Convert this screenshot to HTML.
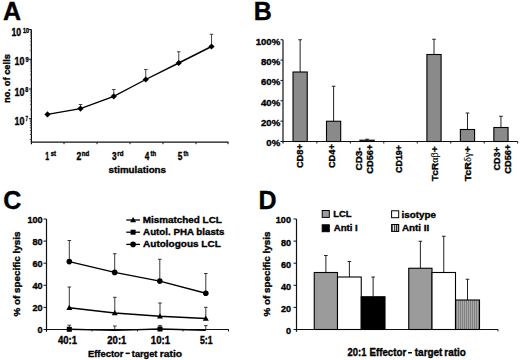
<!DOCTYPE html>
<html><head><meta charset="utf-8"><style>
html,body{margin:0;padding:0;background:#fff;}
svg{display:block;}
text{stroke:#000;stroke-width:0.35px;}
</style></head><body>
<svg width="520" height="360" viewBox="0 0 520 360" font-family="Liberation Sans, sans-serif" font-weight="bold">
<rect width="520" height="360" fill="#fff"/>
<text x="3.1" y="20" font-size="25" text-anchor="start" >A</text>
<text x="253.8" y="19.8" font-size="25" text-anchor="start" >B</text>
<text x="3.2" y="208.6" font-size="25" text-anchor="start" >C</text>
<text x="258.6" y="208.5" font-size="25" text-anchor="start" >D</text>
<line x1="31.4" y1="29.5" x2="31.4" y2="144.2" stroke="#111" stroke-width="1.2"/>
<line x1="30.9" y1="142.2" x2="228.5" y2="142.2" stroke="#111" stroke-width="1.2"/>
<line x1="28.9" y1="29.5" x2="31.4" y2="29.5" stroke="#111" stroke-width="1"/>
<line x1="29.9" y1="50.29" x2="31.4" y2="50.29" stroke="#444" stroke-width="0.7"/>
<line x1="29.9" y1="45.06" x2="31.4" y2="45.06" stroke="#444" stroke-width="0.7"/>
<line x1="29.9" y1="41.34" x2="31.4" y2="41.34" stroke="#444" stroke-width="0.7"/>
<line x1="29.9" y1="38.46" x2="31.4" y2="38.46" stroke="#444" stroke-width="0.7"/>
<line x1="29.9" y1="36.1" x2="31.4" y2="36.1" stroke="#444" stroke-width="0.7"/>
<line x1="29.9" y1="34.11" x2="31.4" y2="34.11" stroke="#444" stroke-width="0.7"/>
<line x1="29.9" y1="32.38" x2="31.4" y2="32.38" stroke="#444" stroke-width="0.7"/>
<line x1="29.9" y1="30.86" x2="31.4" y2="30.86" stroke="#444" stroke-width="0.7"/>
<line x1="28.9" y1="59.25" x2="31.4" y2="59.25" stroke="#111" stroke-width="1"/>
<line x1="29.9" y1="80.04" x2="31.4" y2="80.04" stroke="#444" stroke-width="0.7"/>
<line x1="29.9" y1="74.81" x2="31.4" y2="74.81" stroke="#444" stroke-width="0.7"/>
<line x1="29.9" y1="71.09" x2="31.4" y2="71.09" stroke="#444" stroke-width="0.7"/>
<line x1="29.9" y1="68.21" x2="31.4" y2="68.21" stroke="#444" stroke-width="0.7"/>
<line x1="29.9" y1="65.85" x2="31.4" y2="65.85" stroke="#444" stroke-width="0.7"/>
<line x1="29.9" y1="63.86" x2="31.4" y2="63.86" stroke="#444" stroke-width="0.7"/>
<line x1="29.9" y1="62.13" x2="31.4" y2="62.13" stroke="#444" stroke-width="0.7"/>
<line x1="29.9" y1="60.61" x2="31.4" y2="60.61" stroke="#444" stroke-width="0.7"/>
<line x1="28.9" y1="89" x2="31.4" y2="89" stroke="#111" stroke-width="1"/>
<line x1="29.9" y1="109.79" x2="31.4" y2="109.79" stroke="#444" stroke-width="0.7"/>
<line x1="29.9" y1="104.56" x2="31.4" y2="104.56" stroke="#444" stroke-width="0.7"/>
<line x1="29.9" y1="100.84" x2="31.4" y2="100.84" stroke="#444" stroke-width="0.7"/>
<line x1="29.9" y1="97.96" x2="31.4" y2="97.96" stroke="#444" stroke-width="0.7"/>
<line x1="29.9" y1="95.6" x2="31.4" y2="95.6" stroke="#444" stroke-width="0.7"/>
<line x1="29.9" y1="93.61" x2="31.4" y2="93.61" stroke="#444" stroke-width="0.7"/>
<line x1="29.9" y1="91.88" x2="31.4" y2="91.88" stroke="#444" stroke-width="0.7"/>
<line x1="29.9" y1="90.36" x2="31.4" y2="90.36" stroke="#444" stroke-width="0.7"/>
<line x1="28.9" y1="118.75" x2="31.4" y2="118.75" stroke="#111" stroke-width="1"/>
<line x1="29.9" y1="139.54" x2="31.4" y2="139.54" stroke="#444" stroke-width="0.7"/>
<line x1="29.9" y1="134.31" x2="31.4" y2="134.31" stroke="#444" stroke-width="0.7"/>
<line x1="29.9" y1="130.59" x2="31.4" y2="130.59" stroke="#444" stroke-width="0.7"/>
<line x1="29.9" y1="127.71" x2="31.4" y2="127.71" stroke="#444" stroke-width="0.7"/>
<line x1="29.9" y1="125.35" x2="31.4" y2="125.35" stroke="#444" stroke-width="0.7"/>
<line x1="29.9" y1="123.36" x2="31.4" y2="123.36" stroke="#444" stroke-width="0.7"/>
<line x1="29.9" y1="121.63" x2="31.4" y2="121.63" stroke="#444" stroke-width="0.7"/>
<line x1="29.9" y1="120.11" x2="31.4" y2="120.11" stroke="#444" stroke-width="0.7"/>
<line x1="29.9" y1="139.54" x2="31.4" y2="139.54" stroke="#444" stroke-width="0.7"/>
<line x1="29.9" y1="134.31" x2="31.4" y2="134.31" stroke="#444" stroke-width="0.7"/>
<line x1="29.9" y1="130.59" x2="31.4" y2="130.59" stroke="#444" stroke-width="0.7"/>
<line x1="29.9" y1="127.71" x2="31.4" y2="127.71" stroke="#444" stroke-width="0.7"/>
<line x1="29.9" y1="125.35" x2="31.4" y2="125.35" stroke="#444" stroke-width="0.7"/>
<line x1="29.9" y1="123.36" x2="31.4" y2="123.36" stroke="#444" stroke-width="0.7"/>
<line x1="29.9" y1="121.63" x2="31.4" y2="121.63" stroke="#444" stroke-width="0.7"/>
<line x1="29.9" y1="120.11" x2="31.4" y2="120.11" stroke="#444" stroke-width="0.7"/>
<line x1="64" y1="142.2" x2="64" y2="144.2" stroke="#111" stroke-width="1"/>
<line x1="97" y1="142.2" x2="97" y2="144.2" stroke="#111" stroke-width="1"/>
<line x1="130" y1="142.2" x2="130" y2="144.2" stroke="#111" stroke-width="1"/>
<line x1="163" y1="142.2" x2="163" y2="144.2" stroke="#111" stroke-width="1"/>
<line x1="196" y1="142.2" x2="196" y2="144.2" stroke="#111" stroke-width="1"/>
<line x1="228" y1="142.2" x2="228" y2="144.2" stroke="#111" stroke-width="1"/>
<text x="11.43" y="36" font-size="10.1" textLength="9.66" lengthAdjust="spacingAndGlyphs">10</text>
<text x="22.88" y="33" font-size="7.2" textLength="6.07" lengthAdjust="spacingAndGlyphs">10</text>
<text x="14.52" y="65" font-size="10.1" textLength="9.88" lengthAdjust="spacingAndGlyphs">10</text>
<text x="25.48" y="62" font-size="7.2" textLength="3.16" lengthAdjust="spacingAndGlyphs">9</text>
<text x="14.41" y="96" font-size="10.1" textLength="9.99" lengthAdjust="spacingAndGlyphs">10</text>
<text x="25.30" y="92" font-size="7.2" textLength="2.99" lengthAdjust="spacingAndGlyphs">8</text>
<text x="14.52" y="125" font-size="10.1" textLength="9.88" lengthAdjust="spacingAndGlyphs">10</text>
<text x="25.49" y="121" font-size="7.2" textLength="2.43" lengthAdjust="spacingAndGlyphs">7</text>
<text x="45.13" y="160" font-size="10.1" textLength="3.89" lengthAdjust="spacingAndGlyphs">1</text>
<text x="50.67" y="156.1" font-size="6.6" textLength="5.23" lengthAdjust="spacingAndGlyphs">st</text>
<text x="76.47" y="160" font-size="10.1" textLength="4.80" lengthAdjust="spacingAndGlyphs">2</text>
<text x="81.77" y="156.1" font-size="6.6" textLength="7.45" lengthAdjust="spacingAndGlyphs">nd</text>
<text x="111.98" y="160" font-size="10.1" textLength="4.64" lengthAdjust="spacingAndGlyphs">3</text>
<text x="117.26" y="156.1" font-size="6.6" textLength="6.22" lengthAdjust="spacingAndGlyphs">rd</text>
<text x="144.65" y="160" font-size="10.1" textLength="4.51" lengthAdjust="spacingAndGlyphs">4</text>
<text x="150.60" y="156.1" font-size="6.6" textLength="5.59" lengthAdjust="spacingAndGlyphs">th</text>
<text x="177.72" y="160" font-size="10.1" textLength="4.64" lengthAdjust="spacingAndGlyphs">5</text>
<text x="183.41" y="156.1" font-size="6.6" textLength="4.94" lengthAdjust="spacingAndGlyphs">th</text>
<text x="108.53" y="173.2" font-size="9.7" textLength="57.49" lengthAdjust="spacingAndGlyphs">stimulations</text>
<text transform="translate(9.6,102.94) rotate(-90)" x="0" y="0" font-size="9.2" textLength="48.95" lengthAdjust="spacingAndGlyphs">no. of cells</text>
<line x1="80.5" y1="108.6" x2="80.5" y2="104.5" stroke="#333" stroke-width="0.9"/>
<line x1="78.7" y1="104.5" x2="82.3" y2="104.5" stroke="#333" stroke-width="0.9"/>
<line x1="113.75" y1="96.3" x2="113.75" y2="89.5" stroke="#333" stroke-width="0.9"/>
<line x1="111.95" y1="89.5" x2="115.55" y2="89.5" stroke="#333" stroke-width="0.9"/>
<line x1="145.75" y1="79.5" x2="145.75" y2="69.5" stroke="#333" stroke-width="0.9"/>
<line x1="143.95" y1="69.5" x2="147.55" y2="69.5" stroke="#333" stroke-width="0.9"/>
<line x1="178.75" y1="63" x2="178.75" y2="51.75" stroke="#333" stroke-width="0.9"/>
<line x1="176.95" y1="51.75" x2="180.55" y2="51.75" stroke="#333" stroke-width="0.9"/>
<line x1="211.5" y1="46.5" x2="211.5" y2="34.3" stroke="#333" stroke-width="0.9"/>
<line x1="209.7" y1="34.3" x2="213.3" y2="34.3" stroke="#333" stroke-width="0.9"/>
<polyline fill="none" stroke="#000" stroke-width="1.4" points="47.5,114.4 80.5,108.6 113.75,96.3 145.75,79.5 178.75,63 211.5,46.5"/>
<polygon points="47.5,111.30000000000001 50.6,114.4 47.5,117.5 44.4,114.4" fill="#000"/>
<polygon points="80.5,105.5 83.6,108.6 80.5,111.69999999999999 77.4,108.6" fill="#000"/>
<polygon points="113.75,93.2 116.85,96.3 113.75,99.39999999999999 110.65,96.3" fill="#000"/>
<polygon points="145.75,76.4 148.85,79.5 145.75,82.6 142.65,79.5" fill="#000"/>
<polygon points="178.75,59.9 181.85,63 178.75,66.1 175.65,63" fill="#000"/>
<polygon points="211.5,43.4 214.6,46.5 211.5,49.6 208.4,46.5" fill="#000"/>
<line x1="283" y1="39.75" x2="283" y2="143.5" stroke="#111" stroke-width="1.2"/>
<line x1="282.5" y1="141.5" x2="517.7" y2="141.5" stroke="#111" stroke-width="1.2"/>
<line x1="280.5" y1="39.75" x2="283" y2="39.75" stroke="#111" stroke-width="1"/>
<text x="280.2" y="44.65" font-size="9.6" text-anchor="end" >100%</text>
<line x1="280.5" y1="60.1" x2="283" y2="60.1" stroke="#111" stroke-width="1"/>
<text x="280.2" y="65.0" font-size="9.6" text-anchor="end" >80%</text>
<line x1="280.5" y1="80.45" x2="283" y2="80.45" stroke="#111" stroke-width="1"/>
<text x="280.2" y="85.35000000000001" font-size="9.6" text-anchor="end" >60%</text>
<line x1="280.5" y1="100.8" x2="283" y2="100.8" stroke="#111" stroke-width="1"/>
<text x="280.2" y="105.70000000000002" font-size="9.6" text-anchor="end" >40%</text>
<line x1="280.5" y1="121.15" x2="283" y2="121.15" stroke="#111" stroke-width="1"/>
<text x="280.2" y="126.05000000000001" font-size="9.6" text-anchor="end" >20%</text>
<line x1="280.5" y1="141.5" x2="283" y2="141.5" stroke="#111" stroke-width="1"/>
<text x="280.2" y="146.4" font-size="9.6" text-anchor="end" >0%</text>
<line x1="316.87" y1="141.5" x2="316.87" y2="143.5" stroke="#111" stroke-width="1"/>
<line x1="350.33" y1="141.5" x2="350.33" y2="143.5" stroke="#111" stroke-width="1"/>
<line x1="383.8" y1="141.5" x2="383.8" y2="143.5" stroke="#111" stroke-width="1"/>
<line x1="417.27" y1="141.5" x2="417.27" y2="143.5" stroke="#111" stroke-width="1"/>
<line x1="450.75" y1="141.5" x2="450.75" y2="143.5" stroke="#111" stroke-width="1"/>
<line x1="484.21" y1="141.5" x2="484.21" y2="143.5" stroke="#111" stroke-width="1"/>
<line x1="517.68" y1="141.5" x2="517.68" y2="143.5" stroke="#111" stroke-width="1"/>
<line x1="300.13" y1="72" x2="300.13" y2="39.75" stroke="#222" stroke-width="1"/>
<line x1="298.33" y1="39.75" x2="301.93" y2="39.75" stroke="#222" stroke-width="1"/>
<rect x="293.03" y="72" width="14.2" height="69.5" fill="#8a8a8a" stroke="#000" stroke-width="1.1"/>
<line x1="333.6" y1="121.25" x2="333.6" y2="86.25" stroke="#222" stroke-width="1"/>
<line x1="331.8" y1="86.25" x2="335.4" y2="86.25" stroke="#222" stroke-width="1"/>
<rect x="326.5" y="121.25" width="14.2" height="20.25" fill="#8a8a8a" stroke="#000" stroke-width="1.1"/>
<line x1="367.07" y1="140.2" x2="367.07" y2="139.2" stroke="#222" stroke-width="1"/>
<line x1="365.27" y1="139.2" x2="368.87" y2="139.2" stroke="#222" stroke-width="1"/>
<rect x="359.96999999999997" y="140.2" width="14.2" height="1.3000000000000114" fill="#8a8a8a" stroke="#000" stroke-width="1.1"/>
<line x1="434.01" y1="54.5" x2="434.01" y2="39.25" stroke="#222" stroke-width="1"/>
<line x1="432.21" y1="39.25" x2="435.81" y2="39.25" stroke="#222" stroke-width="1"/>
<rect x="426.90999999999997" y="54.5" width="14.2" height="87.0" fill="#8a8a8a" stroke="#000" stroke-width="1.1"/>
<line x1="467.48" y1="129.5" x2="467.48" y2="113" stroke="#222" stroke-width="1"/>
<line x1="465.68" y1="113" x2="469.28" y2="113" stroke="#222" stroke-width="1"/>
<rect x="460.38" y="129.5" width="14.2" height="12.0" fill="#8a8a8a" stroke="#000" stroke-width="1.1"/>
<line x1="500.95" y1="127.5" x2="500.95" y2="116.25" stroke="#222" stroke-width="1"/>
<line x1="499.15" y1="116.25" x2="502.75" y2="116.25" stroke="#222" stroke-width="1"/>
<rect x="493.84999999999997" y="127.5" width="14.2" height="14.0" fill="#8a8a8a" stroke="#000" stroke-width="1.1"/>
<text transform="translate(302.8,144.1) rotate(-90)" x="0" y="0" font-size="9.4" text-anchor="end" textLength="24" lengthAdjust="spacingAndGlyphs">CD8+</text>
<text transform="translate(335.0,144.1) rotate(-90)" x="0" y="0" font-size="9.4" text-anchor="end" textLength="24" lengthAdjust="spacingAndGlyphs">CD4+</text>
<text transform="translate(361.8,158.9) rotate(-90)" x="0" y="0" font-size="9.4" text-anchor="middle" textLength="23.1" lengthAdjust="spacingAndGlyphs">CD3-</text>
<text transform="translate(373.4,159.2) rotate(-90)" x="0" y="0" font-size="9.4" text-anchor="middle" textLength="29.3" lengthAdjust="spacingAndGlyphs">CD56+</text>
<text transform="translate(401.6,144.9) rotate(-90)" x="0" y="0" font-size="9.4" text-anchor="end" textLength="28.2" lengthAdjust="spacingAndGlyphs">CD19+</text>
<text transform="translate(437.9,146.3) rotate(-90)" x="0" y="0" font-size="9.4" text-anchor="end" textLength="35" lengthAdjust="spacingAndGlyphs">TcR<tspan font-family="Liberation Serif" font-weight="normal" stroke-width="0.15">αβ</tspan>+</text>
<text transform="translate(471.3,146.3) rotate(-90)" x="0" y="0" font-size="9.4" text-anchor="end" textLength="35" lengthAdjust="spacingAndGlyphs">TcR<tspan font-family="Liberation Serif" font-weight="normal" stroke-width="0.15">δγ</tspan>+</text>
<text transform="translate(499.8,158.75) rotate(-90)" x="0" y="0" font-size="9.4" text-anchor="middle" textLength="23.5" lengthAdjust="spacingAndGlyphs">CD3+</text>
<text transform="translate(511.1,159.2) rotate(-90)" x="0" y="0" font-size="9.4" text-anchor="middle" textLength="29.3" lengthAdjust="spacingAndGlyphs">CD56+</text>
<line x1="46.5" y1="219" x2="46.5" y2="331.8" stroke="#111" stroke-width="1.2"/>
<line x1="46" y1="329.5" x2="228.8" y2="329.5" stroke="#111" stroke-width="1.2"/>
<line x1="43.5" y1="219" x2="46.5" y2="219" stroke="#111" stroke-width="1"/>
<text x="42.6" y="222.9" font-size="9.1" text-anchor="end" >100</text>
<line x1="43.5" y1="241.1" x2="46.5" y2="241.1" stroke="#111" stroke-width="1"/>
<text x="42.6" y="245.0" font-size="9.1" text-anchor="end" >80</text>
<line x1="43.5" y1="263.2" x2="46.5" y2="263.2" stroke="#111" stroke-width="1"/>
<text x="42.6" y="267.09999999999997" font-size="9.1" text-anchor="end" >60</text>
<line x1="43.5" y1="285.3" x2="46.5" y2="285.3" stroke="#111" stroke-width="1"/>
<text x="42.6" y="289.2" font-size="9.1" text-anchor="end" >40</text>
<line x1="43.5" y1="307.4" x2="46.5" y2="307.4" stroke="#111" stroke-width="1"/>
<text x="42.6" y="311.29999999999995" font-size="9.1" text-anchor="end" >20</text>
<line x1="43.5" y1="329.5" x2="46.5" y2="329.5" stroke="#111" stroke-width="1"/>
<text x="42.6" y="333.4" font-size="9.1" text-anchor="end" >0</text>
<text transform="translate(19.75,316.57) rotate(-90)" x="0" y="0" font-size="8.7" textLength="85.10" lengthAdjust="spacingAndGlyphs">% of specific lysis</text>
<line x1="92" y1="329.5" x2="92" y2="331.4" stroke="#111" stroke-width="1"/>
<line x1="137.5" y1="329.5" x2="137.5" y2="331.4" stroke="#111" stroke-width="1"/>
<line x1="183" y1="329.5" x2="183" y2="331.4" stroke="#111" stroke-width="1"/>
<line x1="228.5" y1="329.5" x2="228.5" y2="331.4" stroke="#111" stroke-width="1"/>
<line x1="69.3" y1="261.6" x2="69.3" y2="240.5" stroke="#222" stroke-width="0.9"/>
<line x1="67.5" y1="240.5" x2="71.1" y2="240.5" stroke="#222" stroke-width="0.9"/>
<line x1="114.7" y1="272.4" x2="114.7" y2="253.75" stroke="#222" stroke-width="0.9"/>
<line x1="112.9" y1="253.75" x2="116.5" y2="253.75" stroke="#222" stroke-width="0.9"/>
<line x1="159.8" y1="281.1" x2="159.8" y2="259.25" stroke="#222" stroke-width="0.9"/>
<line x1="158" y1="259.25" x2="161.6" y2="259.25" stroke="#222" stroke-width="0.9"/>
<line x1="205.8" y1="293.3" x2="205.8" y2="273.5" stroke="#222" stroke-width="0.9"/>
<line x1="204" y1="273.5" x2="207.6" y2="273.5" stroke="#222" stroke-width="0.9"/>
<line x1="69.3" y1="307.7" x2="69.3" y2="287" stroke="#222" stroke-width="0.9"/>
<line x1="67.5" y1="287" x2="71.1" y2="287" stroke="#222" stroke-width="0.9"/>
<line x1="114.8" y1="313" x2="114.8" y2="297.3" stroke="#222" stroke-width="0.9"/>
<line x1="113" y1="297.3" x2="116.6" y2="297.3" stroke="#222" stroke-width="0.9"/>
<line x1="160" y1="316.3" x2="160" y2="303" stroke="#222" stroke-width="0.9"/>
<line x1="158.2" y1="303" x2="161.8" y2="303" stroke="#222" stroke-width="0.9"/>
<line x1="205.8" y1="318.5" x2="205.8" y2="307.3" stroke="#222" stroke-width="0.9"/>
<line x1="204" y1="307.3" x2="207.6" y2="307.3" stroke="#222" stroke-width="0.9"/>
<line x1="69.3" y1="329.3" x2="69.3" y2="325.2" stroke="#222" stroke-width="0.9"/>
<line x1="67.5" y1="325.2" x2="71.1" y2="325.2" stroke="#222" stroke-width="0.9"/>
<line x1="114.8" y1="330.4" x2="114.8" y2="326" stroke="#222" stroke-width="0.9"/>
<line x1="113" y1="326" x2="116.6" y2="326" stroke="#222" stroke-width="0.9"/>
<line x1="160" y1="329" x2="160" y2="325.4" stroke="#222" stroke-width="0.9"/>
<line x1="158.2" y1="325.4" x2="161.8" y2="325.4" stroke="#222" stroke-width="0.9"/>
<line x1="205.8" y1="330.2" x2="205.8" y2="325.6" stroke="#222" stroke-width="0.9"/>
<line x1="204" y1="325.6" x2="207.6" y2="325.6" stroke="#222" stroke-width="0.9"/>
<polyline fill="none" stroke="#000" stroke-width="1.4" points="69.3,261.6 114.7,272.4 159.8,281.1 205.8,293.3"/>
<polyline fill="none" stroke="#000" stroke-width="1.4" points="69.3,307.7 114.8,313 160,316.3 205.8,318.5"/>
<polyline fill="none" stroke="#000" stroke-width="1.4" points="69.3,329.3 114.8,330.4 160,329.0 205.8,330.2"/>
<circle cx="69.3" cy="261.6" r="2.8" fill="#000"/>
<circle cx="114.7" cy="272.4" r="2.8" fill="#000"/>
<circle cx="159.8" cy="281.1" r="2.8" fill="#000"/>
<circle cx="205.8" cy="293.3" r="2.8" fill="#000"/>
<polygon points="69.3,304.7 72.3,309.95 66.3,309.95" fill="#000"/>
<polygon points="114.8,310.0 117.8,315.25 111.8,315.25" fill="#000"/>
<polygon points="160,313.3 163.0,318.55 157.0,318.55" fill="#000"/>
<polygon points="205.8,315.5 208.8,320.75 202.8,320.75" fill="#000"/>
<rect x="66.8" y="326.8" width="5.0" height="5.0" fill="#000"/>
<rect x="157.5" y="326.5" width="5.0" height="5.0" fill="#000"/>
<line x1="126.3" y1="220" x2="140" y2="220" stroke="#000" stroke-width="1.3"/>
<polygon points="133.1,217.0 136.1,222.25 130.1,222.25" fill="#000"/>
<text x="142.71" y="222.9" font-size="9.5" textLength="79.12" lengthAdjust="spacingAndGlyphs">Mismatched LCL</text>
<line x1="126.3" y1="232.2" x2="140" y2="232.2" stroke="#000" stroke-width="1.3"/>
<rect x="130.6" y="229.7" width="5.0" height="5.0" fill="#000"/>
<text x="143.13" y="235.1" font-size="9.5" textLength="81.40" lengthAdjust="spacingAndGlyphs">Autol. PHA blasts</text>
<line x1="126.3" y1="244.4" x2="140" y2="244.4" stroke="#000" stroke-width="1.3"/>
<circle cx="133.1" cy="244.4" r="2.8" fill="#000"/>
<text x="143.13" y="247.3" font-size="9.5" textLength="77.61" lengthAdjust="spacingAndGlyphs">Autologous LCL</text>
<text x="58.03" y="344" font-size="10.1" textLength="19.06" lengthAdjust="spacingAndGlyphs">40:1</text>
<text x="107.34" y="344" font-size="10.1" textLength="19.00" lengthAdjust="spacingAndGlyphs">20:1</text>
<text x="150.82" y="344" font-size="10.1" textLength="19.28" lengthAdjust="spacingAndGlyphs">10:1</text>
<text x="199.90" y="343.5" font-size="10.1" textLength="12.67" lengthAdjust="spacingAndGlyphs">5:1</text>
<text x="87.95" y="356.6" font-size="9.7" textLength="35.52" lengthAdjust="spacingAndGlyphs">Effector</text>
<rect x="125.6" y="352.6" width="4.2" height="1.5" fill="#000"/>
<text x="131.86" y="356.6" font-size="9.7" textLength="25.57" lengthAdjust="spacingAndGlyphs">target</text>
<text x="159.74" y="356.6" font-size="9.7" textLength="22.38" lengthAdjust="spacingAndGlyphs">ratio</text>
<line x1="296.5" y1="219" x2="296.5" y2="331.8" stroke="#111" stroke-width="1.2"/>
<line x1="296" y1="329.5" x2="498" y2="329.5" stroke="#111" stroke-width="1.2"/>
<line x1="293.5" y1="219" x2="296.5" y2="219" stroke="#111" stroke-width="1"/>
<text x="291.0" y="223.4" font-size="9.1" text-anchor="end" >100</text>
<line x1="293.5" y1="241.1" x2="296.5" y2="241.1" stroke="#111" stroke-width="1"/>
<text x="291.0" y="245.5" font-size="9.1" text-anchor="end" >80</text>
<line x1="293.5" y1="263.2" x2="296.5" y2="263.2" stroke="#111" stroke-width="1"/>
<text x="291.0" y="267.59999999999997" font-size="9.1" text-anchor="end" >60</text>
<line x1="293.5" y1="285.3" x2="296.5" y2="285.3" stroke="#111" stroke-width="1"/>
<text x="291.0" y="289.7" font-size="9.1" text-anchor="end" >40</text>
<line x1="293.5" y1="307.4" x2="296.5" y2="307.4" stroke="#111" stroke-width="1"/>
<text x="291.0" y="311.79999999999995" font-size="9.1" text-anchor="end" >20</text>
<line x1="293.5" y1="329.5" x2="296.5" y2="329.5" stroke="#111" stroke-width="1"/>
<text x="291.0" y="333.9" font-size="9.1" text-anchor="end" >0</text>
<text transform="translate(269.75,316.57) rotate(-90)" x="0" y="0" font-size="8.7" textLength="85.10" lengthAdjust="spacingAndGlyphs">% of specific lysis</text>
<line x1="498" y1="329.5" x2="498" y2="331.4" stroke="#111" stroke-width="1"/>
<defs><pattern id="vs" width="2" height="4" patternUnits="userSpaceOnUse"><rect width="2" height="4" fill="#aaaaaa"/><rect width="1" height="4" fill="#808080"/></pattern><pattern id="vs2" x="0.1" width="2.2" height="4" patternUnits="userSpaceOnUse"><rect width="2.2" height="4" fill="#e8e8e8"/><rect width="1.1" height="4" fill="#222"/></pattern></defs>
<line x1="325.88" y1="272.5" x2="325.88" y2="255.5" stroke="#222" stroke-width="1"/>
<line x1="324.07" y1="255.5" x2="327.68" y2="255.5" stroke="#222" stroke-width="1"/>
<line x1="349.38" y1="277" x2="349.38" y2="261.5" stroke="#222" stroke-width="1"/>
<line x1="347.57" y1="261.5" x2="351.18" y2="261.5" stroke="#222" stroke-width="1"/>
<line x1="373.12" y1="296.75" x2="373.12" y2="277" stroke="#222" stroke-width="1"/>
<line x1="371.32" y1="277" x2="374.93" y2="277" stroke="#222" stroke-width="1"/>
<line x1="420.38" y1="268.25" x2="420.38" y2="241.25" stroke="#222" stroke-width="1"/>
<line x1="418.57" y1="241.25" x2="422.18" y2="241.25" stroke="#222" stroke-width="1"/>
<line x1="443.75" y1="272.5" x2="443.75" y2="236.25" stroke="#222" stroke-width="1"/>
<line x1="441.95" y1="236.25" x2="445.55" y2="236.25" stroke="#222" stroke-width="1"/>
<line x1="467.5" y1="300" x2="467.5" y2="279.25" stroke="#222" stroke-width="1"/>
<line x1="465.7" y1="279.25" x2="469.3" y2="279.25" stroke="#222" stroke-width="1"/>
<rect x="314.25" y="272.5" width="23.25" height="57.0" fill="#9b9b9b" stroke="#000" stroke-width="1.1"/>
<rect x="337.5" y="277" width="23.75" height="52.5" fill="#fff" stroke="#000" stroke-width="1.1"/>
<rect x="361.25" y="296.75" width="23.75" height="32.75" fill="#000" stroke="#000" stroke-width="1.1"/>
<rect x="408.75" y="268.25" width="23.25" height="61.25" fill="#9b9b9b" stroke="#000" stroke-width="1.1"/>
<rect x="432" y="272.5" width="23.5" height="57.0" fill="#fff" stroke="#000" stroke-width="1.1"/>
<rect x="455.5" y="300" width="24.0" height="29.5" fill="url(#vs)" stroke="#000" stroke-width="1.1"/>
<rect x="322.2" y="210.5" width="7.1" height="6.9" fill="#9b9b9b" stroke="#000" stroke-width="1"/>
<rect x="322.2" y="224.8" width="7.1" height="6.9" fill="#000" stroke="#000" stroke-width="1"/>
<rect x="391.6" y="210.8" width="7.1" height="6.9" fill="#fff" stroke="#000" stroke-width="1"/>
<rect x="391.6" y="224.5" width="7.1" height="6.9" fill="url(#vs2)" stroke="#000" stroke-width="1"/>
<text x="333.29" y="217.1" font-size="9.3" textLength="18.32" lengthAdjust="spacingAndGlyphs">LCL</text>
<text x="333.68" y="231.4" font-size="9.3" textLength="24.08" lengthAdjust="spacingAndGlyphs">Anti I</text>
<text x="401.49" y="217.8" font-size="9.4" textLength="34.42" lengthAdjust="spacingAndGlyphs">isotype</text>
<text x="401.93" y="231.4" font-size="9.4" textLength="27.35" lengthAdjust="spacingAndGlyphs">Anti II</text>
<text x="347.60" y="356.0" font-size="10.1" textLength="18.74" lengthAdjust="spacingAndGlyphs">20:1</text>
<text x="369.52" y="356.0" font-size="10.1" textLength="36.70" lengthAdjust="spacingAndGlyphs">Effector</text>
<rect x="408.1" y="352.0" width="3.8" height="1.5" fill="#000"/>
<text x="414.81" y="356.0" font-size="10.1" textLength="27.64" lengthAdjust="spacingAndGlyphs">target</text>
<text x="444.27" y="356.0" font-size="10.1" textLength="21.54" lengthAdjust="spacingAndGlyphs">ratio</text>
</svg>
</body></html>
